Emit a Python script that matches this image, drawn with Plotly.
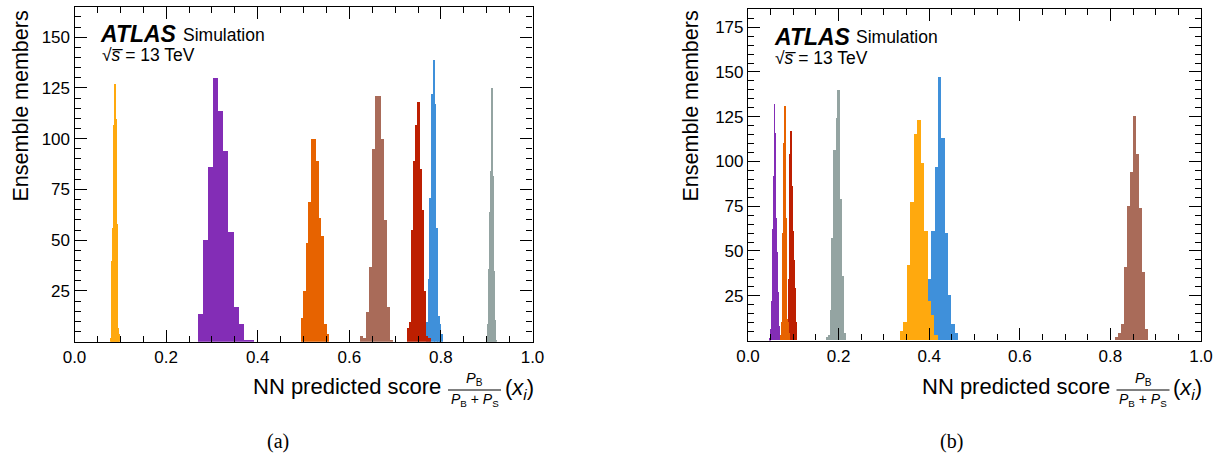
import plotly.graph_objects as go

# ------------------------------------------------------------------
# DATA
# Each ensemble histogram: first bin lower edge, bin width, counts
# Series order (drawing order): blue, yellow, red, grey, purple, brown, orange
# ------------------------------------------------------------------
series_keys = ["blue", "yellow", "red", "grey", "purple", "brown", "orange"]

# ---- panel (a) ----
a_blue_start, a_blue_binw = 0.7675, 0.00356
a_blue_counts = [10, 31, 71, 122, 139, 117, 56, 13, 9, 4]
a_yellow_start, a_yellow_binw = 0.0775, 0.00218
a_yellow_counts = [2, 40, 56, 107, 127, 110, 58, 7, 4]
a_red_start, a_red_binw = 0.7238, 0.0048
a_red_counts = [7, 10, 55, 89, 107, 118, 85, 65, 25, 3, 2]
a_grey_start, a_grey_binw = 0.8985, 0.00218
a_grey_counts = [2, 9, 36, 64, 84, 125, 82, 35, 11, 1]
a_purple_start, a_purple_binw = 0.2675, 0.01125
a_purple_counts = [14, 50, 86, 130, 114, 94, 54, 17, 9, 1, 1]
a_brown_start, a_brown_binw = 0.6212, 0.0067
a_brown_counts = [3, 2, 15, 37, 95, 121, 121, 100, 60, 17, 1]
a_orange_start, a_orange_binw = 0.4924, 0.00568
a_orange_counts = [12, 25, 49, 69, 100, 100, 89, 61, 52, 9, 4]

# ---- panel (b) ----
b_blue_start, b_blue_binw = 0.3974, 0.00735
b_blue_counts = [34, 61, 97, 147, 113, 60, 25, 9, 4]
b_yellow_start, b_yellow_binw = 0.3355, 0.0076
b_yellow_counts = [5, 10, 42, 77, 115, 123, 99, 61, 22, 14, 3]
b_red_start, b_red_binw = 0.0861, 0.0022
b_red_counts = [3, 34, 61, 104, 117, 86, 61, 45, 29, 10]
b_grey_start, b_grey_binw = 0.1722, 0.0044
b_grey_counts = [2, 3, 17, 57, 106, 124, 140, 79, 36, 4]
b_purple_start, b_purple_binw = 0.0464, 0.0022
b_purple_counts = [1, 6, 22, 62, 92, 132, 116, 68, 49, 27, 8]
b_brown_start, b_brown_binw = 0.8102, 0.00662
b_brown_counts = [2, 4, 9, 41, 75, 94, 125, 104, 74, 38, 6]
b_orange_start, b_orange_binw = 0.0728, 0.0022
b_orange_counts = [3, 10, 60, 110, 131, 68, 12, 10, 4]

x_tick_vals = [0.0, 0.2, 0.4, 0.6, 0.8, 1.0]
x_tick_text = ["0.0", "0.2", "0.4", "0.6", "0.8", "1.0"]
a_y_tick_vals = [25, 50, 75, 100, 125, 150]
b_y_tick_vals = [25, 50, 75, 100, 125, 150, 175]
a_y_max = 165
b_y_max = 185

y_title = "Ensemble members"
x_title_main = "NN predicted score"
captions = ["(a)", "(b)"]

# ------------------------------------------------------------------
# STYLE
# ------------------------------------------------------------------
colors = {
    "blue": "#3f90da", "yellow": "#ffa90e", "red": "#bd1f01",
    "grey": "#94a4a2", "purple": "#832db6", "brown": "#a96b59",
    "orange": "#e76300",
}
FW, FH = 1227, 455
FONT = "Liberation Sans, Arial, Helvetica, sans-serif"


def px(x):
    return x / FW


def py(y):
    return 1 - y / FH


panels = {
    "a": dict(l=74.5, r=532.5, t=6.7, b=341.7),
    "b": dict(l=748.0, r=1201.0, t=9.3, b=340.5),
}

data_a = {
    "blue": (a_blue_start, a_blue_binw, a_blue_counts),
    "yellow": (a_yellow_start, a_yellow_binw, a_yellow_counts),
    "red": (a_red_start, a_red_binw, a_red_counts),
    "grey": (a_grey_start, a_grey_binw, a_grey_counts),
    "purple": (a_purple_start, a_purple_binw, a_purple_counts),
    "brown": (a_brown_start, a_brown_binw, a_brown_counts),
    "orange": (a_orange_start, a_orange_binw, a_orange_counts),
}
data_b = {
    "blue": (b_blue_start, b_blue_binw, b_blue_counts),
    "yellow": (b_yellow_start, b_yellow_binw, b_yellow_counts),
    "red": (b_red_start, b_red_binw, b_red_counts),
    "grey": (b_grey_start, b_grey_binw, b_grey_counts),
    "purple": (b_purple_start, b_purple_binw, b_purple_counts),
    "brown": (b_brown_start, b_brown_binw, b_brown_counts),
    "orange": (b_orange_start, b_orange_binw, b_orange_counts),
}

fig = go.Figure()

for data, xa, ya in [(data_a, "x", "y"), (data_b, "x2", "y2")]:
    for key in series_keys:
        start, w, counts = data[key]
        xs = [start + (i + 0.5) * w for i in range(len(counts))]
        fig.add_trace(go.Bar(
            x=xs, y=counts, width=[w] * len(counts),
            marker=dict(color=colors[key], line=dict(width=0)),
            xaxis=xa, yaxis=ya, showlegend=False, name=key,
        ))


def axis_style(**kw):
    d = dict(
        showline=True, linecolor="black", linewidth=1.2, mirror="allticks",
        ticks="inside", ticklen=12, tickwidth=1, tickcolor="black",
        showgrid=False, zeroline=False, automargin=False,
        tickfont=dict(family=FONT, size=17, color="black"),
    )
    d.update(kw)
    return d


pa, pb = panels["a"], panels["b"]
fig.update_layout(
    width=FW, height=FH,
    margin=dict(l=0, r=0, t=0, b=0, pad=0, autoexpand=False),
    paper_bgcolor="white", plot_bgcolor="white",
    barmode="overlay", bargap=0,
    xaxis=axis_style(domain=[px(pa["l"]), px(pa["r"])], range=[0, 1],
                     tickvals=x_tick_vals, ticktext=x_tick_text, anchor="y",
                     minor=dict(dtick=0.05, tick0=0, ticks="inside", ticklen=6,
                                tickcolor="black", showgrid=False)),
    yaxis=axis_style(domain=[py(pa["b"]), py(pa["t"])], range=[0, a_y_max],
                     tickvals=a_y_tick_vals, anchor="x",
                     minor=dict(dtick=5, tick0=0, ticks="inside", ticklen=6,
                                tickcolor="black", showgrid=False)),
    xaxis2=axis_style(domain=[px(pb["l"]), px(pb["r"])], range=[0, 1],
                      tickvals=x_tick_vals, ticktext=x_tick_text, anchor="y2",
                      minor=dict(dtick=0.05, tick0=0, ticks="inside", ticklen=6,
                                 tickcolor="black", showgrid=False)),
    yaxis2=axis_style(domain=[py(pb["b"]), py(pb["t"])], range=[0, b_y_max],
                      tickvals=b_y_tick_vals, anchor="x2",
                      minor=dict(dtick=5, tick0=0, ticks="inside", ticklen=6,
                                 tickcolor="black", showgrid=False)),
)

ann = []
shapes = []


def add_text(x, y, text, size, xanchor="center", yanchor="middle",
             family=FONT, angle=0):
    ann.append(dict(x=px(x), y=py(y), xref="paper", yref="paper",
                    text=text, showarrow=False, xanchor=xanchor,
                    yanchor=yanchor, textangle=angle,
                    font=dict(family=family, size=size, color="black")))


for key, p, cap_x, ytx in [("a", pa, 277.5, 20), ("b", pb, 951.5, 690)]:
    L, R, T = p["l"], p["r"], p["t"]
    # ATLAS label
    add_text(L + 23.5, T + 27.5, "<b><i>ATLAS</i></b>", 23, xanchor="left")
    add_text(L + 106, T + 28, "Simulation", 17.5, xanchor="left")
    add_text(L + 25, T + 48.5,
             "\u221a<i>s\u0305</i> = 13 TeV",
             17.5, xanchor="left")
    # y title
    add_text(ytx, 9, y_title, 21.5, yanchor="top", angle=-90)
    # x title pieces
    add_text(R - 89.5, 386, x_title_main, 22, xanchor="right")
    add_text(R - 58, 378.5, "<i>P</i><sub>B</sub>", 14.5)
    add_text(R - 58, 400, "<i>P</i><sub>B</sub> + <i>P</i><sub>S</sub>", 14)
    shapes.append(dict(type="line", xref="paper", yref="paper",
                       x0=px(R - 84.5), x1=px(R - 31.5), y0=py(390), y1=py(390),
                       line=dict(color="black", width=1)))
    add_text(R - 30, 388.5, "(<i>x<sub>i</sub></i>)", 22, xanchor="left")
    # caption
    add_text(cap_x, 441, captions[0] if key == "a" else captions[1], 20,
             family="Liberation Serif, Times New Roman, serif")

fig.update_layout(annotations=ann, shapes=shapes)
fig.write_html(
    "out.html",
    config={"displayModeBar": False},
    post_script="document.body.style.margin='0';document.body.style.overflow='hidden';",
)
